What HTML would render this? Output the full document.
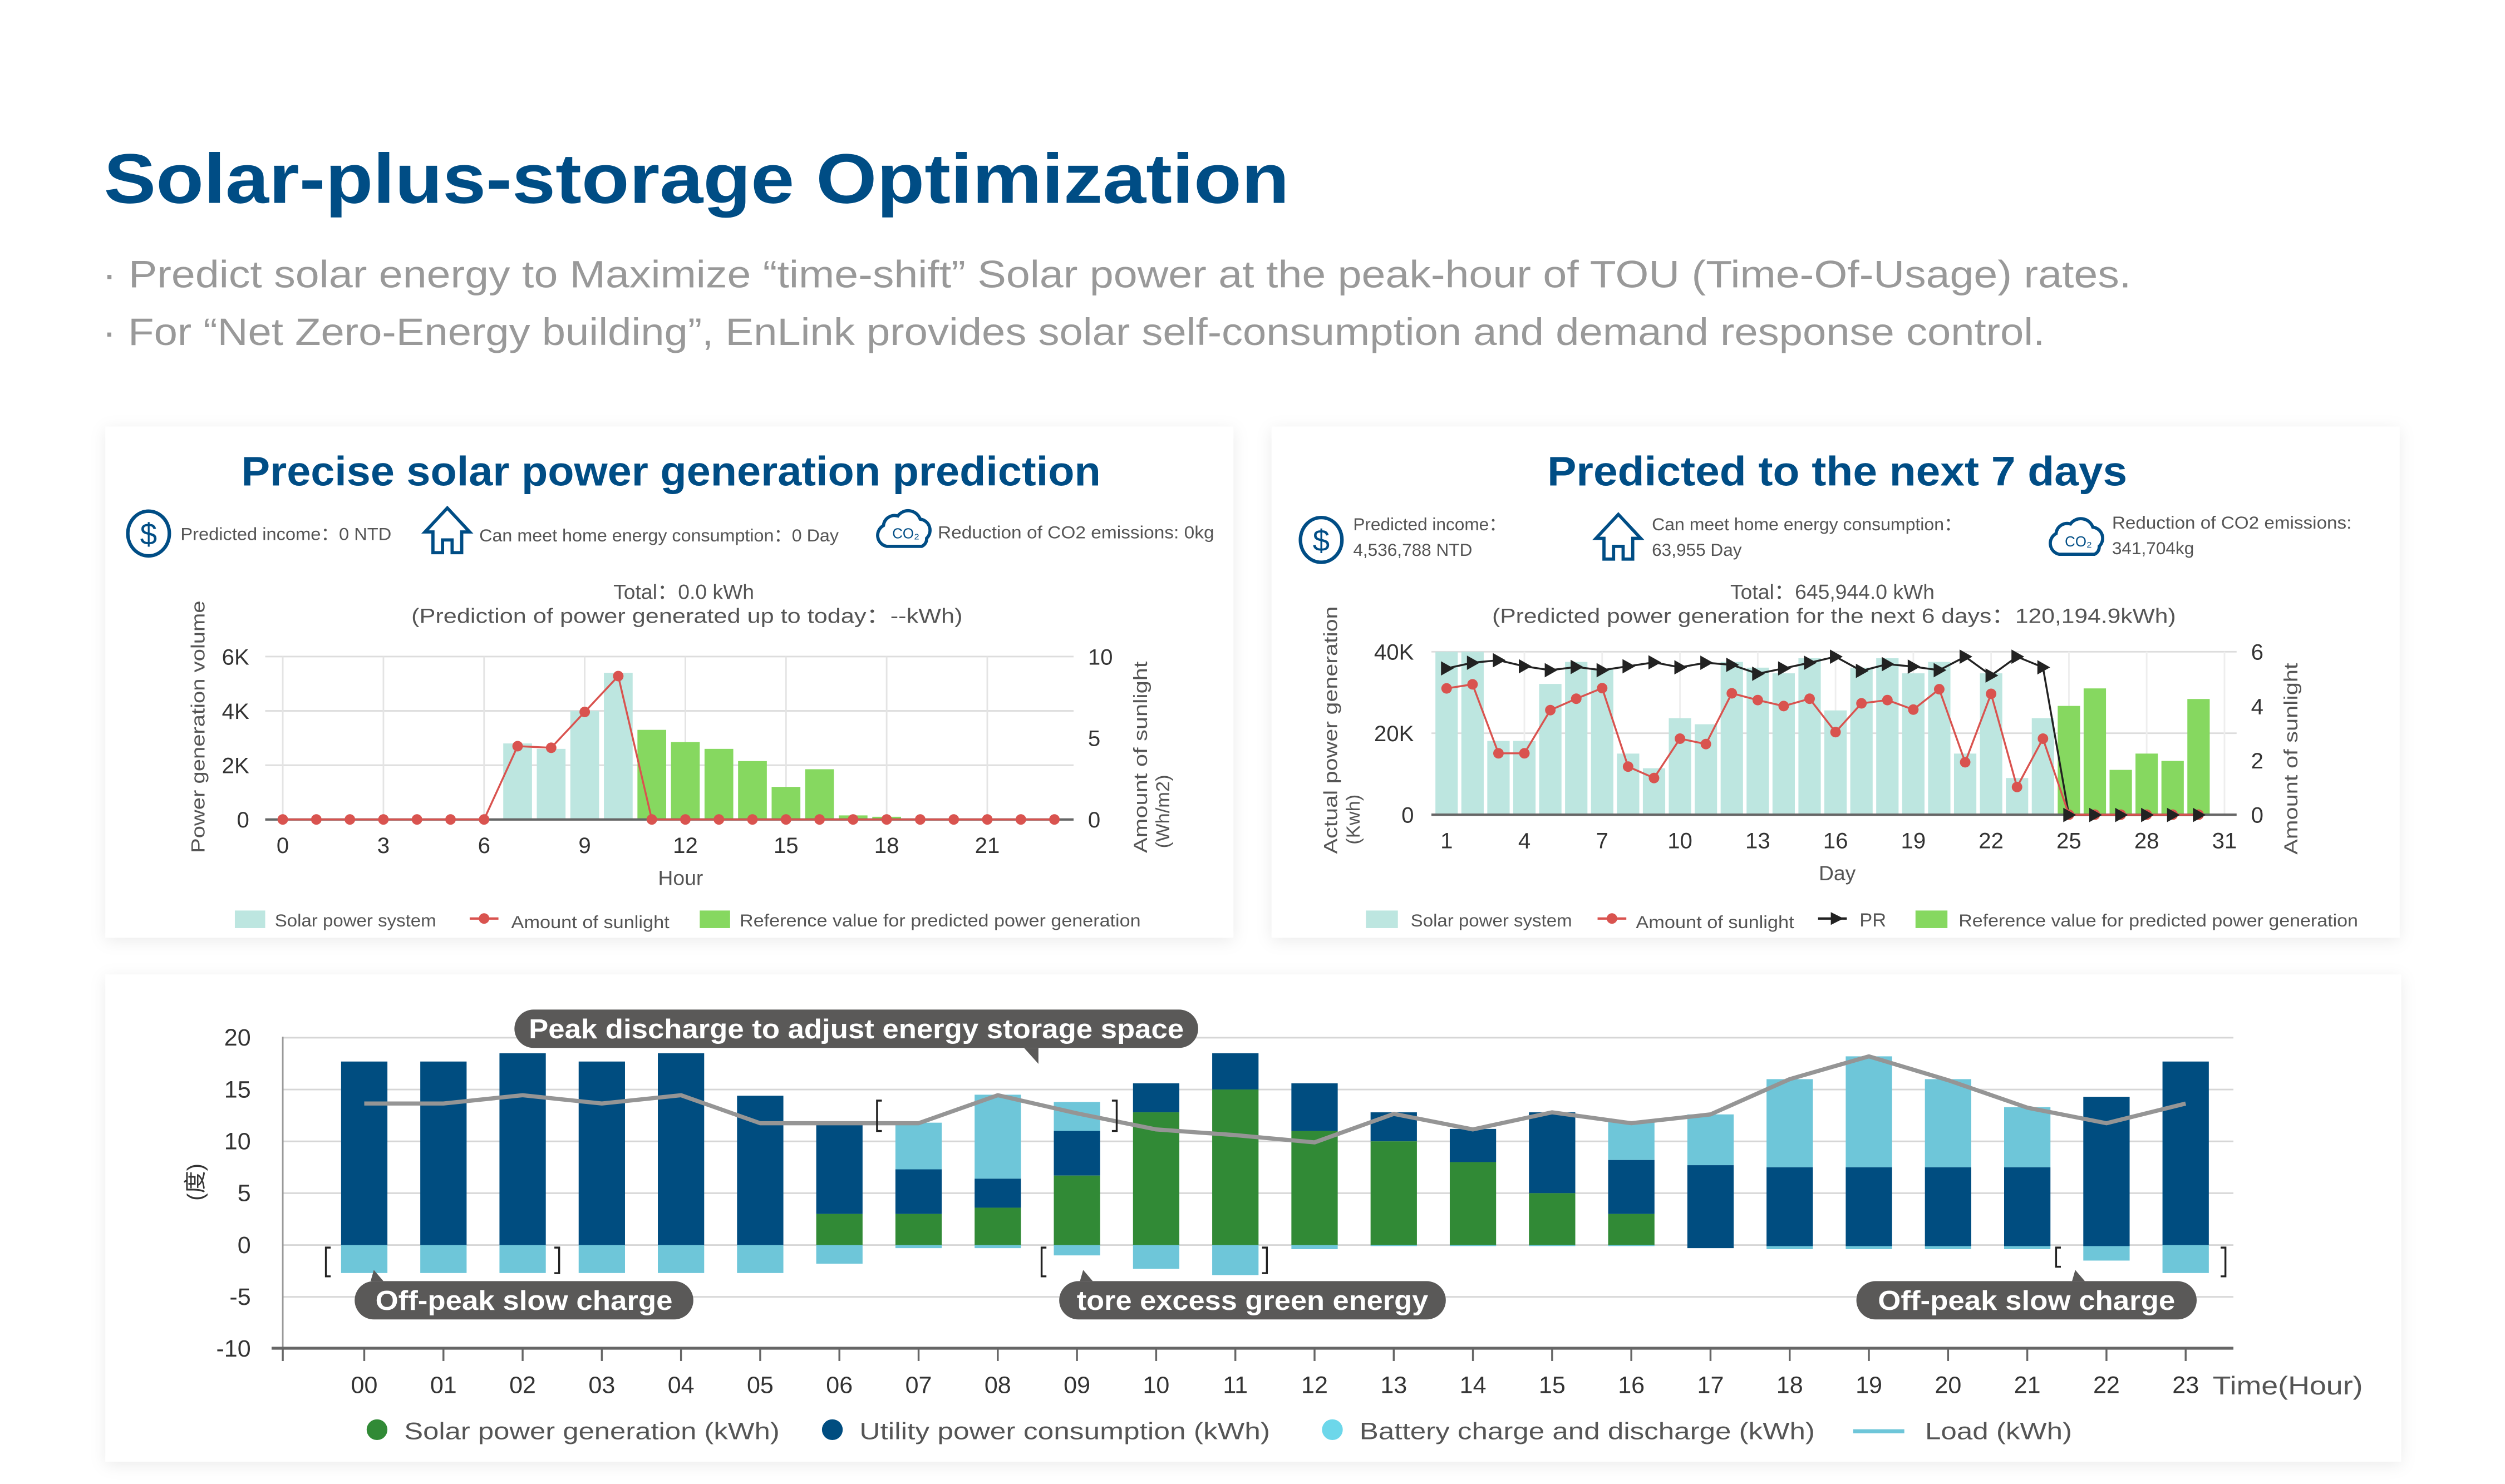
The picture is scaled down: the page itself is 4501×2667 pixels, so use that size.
<!DOCTYPE html>
<html><head><meta charset="utf-8">
<style>
html,body{margin:0;padding:0;background:#fff;}
svg{display:block;font-family:"Liberation Sans","Noto Sans CJK SC",sans-serif;}
</style></head>
<body>
<svg id="s" xmlns="http://www.w3.org/2000/svg" width="4501" height="2667" viewBox="0 0 1568 929" preserveAspectRatio="none">
<defs>
<filter id="sh" x="-5%" y="-10%" width="110%" height="120%"><feDropShadow dx="0" dy="2" stdDeviation="5" flood-color="#000" flood-opacity="0.08"/></filter>
</defs>
<text x="65" y="127" font-size="44" font-weight="bold" fill="#004d85" textLength="742" lengthAdjust="spacingAndGlyphs">Solar-plus-storage Optimization</text>
<text x="64" y="180" font-size="24" fill="#999" textLength="1270" lengthAdjust="spacingAndGlyphs">·  Predict solar energy to Maximize “time-shift” Solar power at the peak-hour of TOU (Time-Of-Usage) rates.</text>
<text x="64" y="216" font-size="24" fill="#999" textLength="1216" lengthAdjust="spacingAndGlyphs">·  For “Net Zero-Energy building”, EnLink provides solar self-consumption and demand response control.</text>

<rect x="66" y="267" width="706" height="320" fill="#fff" filter="url(#sh)"/>
<rect x="796" y="267" width="706" height="320" fill="#fff" filter="url(#sh)"/>
<rect x="66" y="610" width="1437" height="305" fill="#fff" filter="url(#sh)"/>
<g id="g"></g>
</svg>
<script>
var out='',G=document.getElementById('g');
function t(x,y,s,txt,o){o=o||{};out+='<text x="'+x+'" y="'+y+'" font-size="'+s+'" fill="'+(o.f||'#555')+'"'+(o.a?' text-anchor="'+o.a+'"':'')+(o.w?' font-weight="bold"':'')+(o.tl?' textLength="'+o.tl+'" lengthAdjust="spacingAndGlyphs"':'')+(o.r?' transform="rotate(-90 '+x+' '+y+')"':'')+'>'+txt+'</text>';}
function r(x,y,w,h,f){if(h<0){y+=h;h=-h;}out+='<rect x="'+x+'" y="'+y+'" width="'+w+'" height="'+h+'" fill="'+f+'"/>';}
function l(x1,y1,x2,y2,c,w){out+='<line x1="'+x1+'" y1="'+y1+'" x2="'+x2+'" y2="'+y2+'" stroke="'+c+'" stroke-width="'+(w||1)+'"/>';}
function pl(pts,c,w){out+='<polyline points="'+pts.map(p=>p.join(',')).join(' ')+'" fill="none" stroke="'+c+'" stroke-width="'+w+'" stroke-linejoin="round"/>';}
var B='#004d85';
function dollar(x,y){out+='<ellipse cx="'+x+'" cy="'+y+'" rx="13" ry="14" fill="none" stroke="'+B+'" stroke-width="2.2"/>';t(x,y+7,19,'$',{a:'middle',f:B});}
function house(x,y){out+='<path d="M'+x+','+(y-15)+' L'+(x+14)+','+(y)+' L'+(x+9)+','+y+' L'+(x+9)+','+(y+13)+' L'+(x+3)+','+(y+13)+' L'+(x+3)+','+(y+5)+' L'+(x-3)+','+(y+5)+' L'+(x-3)+','+(y+13)+' L'+(x-9)+','+(y+13)+' L'+(x-9)+','+y+' L'+(x-14)+','+y+' Z" fill="none" stroke="'+B+'" stroke-width="2"/>';}
function cloud(x,y){out+='<path d="M'+(x-11)+','+(y+9)+' a7,7 0 0 1 -2,-13 a7,7 0 0 1 9,-6 a8,8 0 0 1 14,2 a7,7 0 0 1 4,12 a5,5 0 0 1 -3,5 Z" fill="none" stroke="'+B+'" stroke-width="2"/>';t(x+1,y+4,9,'CO₂',{a:'middle',f:B});}

// Panel 1
t(420,304,26,'Precise solar power generation prediction',{a:'middle',f:B,w:1,tl:538});
dollar(93,334);t(113,338,11,'Predicted income：0 NTD',{tl:132});
house(280,333);t(300,339,11,'Can meet home energy consumption：0 Day',{tl:225});
cloud(566,333);t(587,337,11,'Reduction of CO2 emissions: 0kg',{tl:173});
t(428,375,13,'Total：0.0 kWh',{a:'middle'});
t(430,390,13,'(Prediction of power generated up to today：--kWh)',{a:'middle',tl:345});
var y1=v=>513-v*17;
[0,2,4,6].forEach(v=>l(166,y1(v),672,y1(v),'#ddd'));
for(var k=0;k<8;k++){l(177+63*k,411,177+63*k,513,'#e4e4e4');}
var ph=h=>177+21*h;
[[7,2.8],[8,2.6],[9,4],[10,5.4]].forEach(d=>r(ph(d[0])-9,y1(d[1]),18,d[1]*17,'#bde6e0'));
[[11,3.3],[12,2.85],[13,2.6],[14,2.15],[15,1.2],[16,1.85],[17,0.15],[18,0.1]].forEach(d=>r(ph(d[0])-9,y1(d[1]),18,d[1]*17,'#86d860'));
l(166,513,672,513,'#666',1.5);
var sun=[];for(var h=0;h<24;h++){var v={7:4.5,8:4.4,9:6.6,10:8.8}[h]||0;sun.push([ph(h),513-v*10.2]);}
pl(sun,'#d9534f',1.2);sun.forEach(p=>out+='<circle cx="'+p[0]+'" cy="'+p[1]+'" r="3.3" fill="#d9534f"/>');
[['6K',0],['4K',2],['2K',4],['0',6]].forEach((a,i)=>t(156,y1(6-i*2)+5,14,a[0],{a:'end',f:'#333'}));
[0,3,6,9,12,15,18,21].forEach(h=>t(ph(h),534,14,h,{a:'middle',f:'#333'}));
t(426,554,13,'Hour',{a:'middle'});
[['10',411],['5',462],['0',513]].forEach(a=>t(681,a[1]+5,14,a[0],{f:'#333'}));
t(128,455,12,'Power generation volume',{a:'middle',r:1,tl:158});
t(718,474,12,'Amount of sunlight',{a:'middle',r:1,tl:120});
t(732,508,12,'(Wh/m2)',{a:'middle',r:1});
r(147,570,19,11,'#bde6e0');t(172,580,11,'Solar power system',{tl:101});
l(294,575,312,575,'#d9534f',1.5);out+='<circle cx="303" cy="575" r="3.3" fill="#d9534f"/>';t(320,581,11,'Amount of sunlight',{tl:99});
r(438,570,19,11,'#86d860');t(463,580,11,'Reference value for predicted power generation',{tl:251});

// Panel 2
t(1150,304,26,'Predicted to the next 7 days',{a:'middle',f:B,w:1,tl:363});
dollar(827,338);t(847,332,11,'Predicted income：');t(847,348,11,'4,536,788 NTD');
house(1013,337);t(1034,332,11,'Can meet home energy consumption：',{tl:194});t(1034,348,11,'63,955 Day');
cloud(1300,338);t(1322,331,11,'Reduction of CO2 emissions:',{tl:150});t(1322,347,11,'341,704kg');
t(1147,375,13,'Total：645,944.0 kWh',{a:'middle'});
t(1148,390,13,'(Predicted power generation for the next 6 days：120,194.9kWh)',{a:'middle',tl:428});
var y2=v=>510-v*2.55;
[0,20,40].forEach(v=>l(896,y2(v),1400,y2(v),'#ddd'));
var px=d=>905.5+(d-1)*16.23;
for(var d=1;d<=31;d+=3)l(px(d),408,px(d),510,'#eee');
var sol=[40,40,18.1,18.1,32.1,37.5,35.7,15,11.4,23.7,22.2,37.5,36.1,34.7,38.4,25.6,36.1,38.4,34.7,37.5,15,34.7,9,23.7];
sol.forEach((v,i)=>r(px(i+1)-7,y2(v),14,v*2.55,'#bde6e0'));
[26.7,31,11,15,13.2,28.4].forEach((v,i)=>r(px(i+25)-7,y2(v),14,v*2.55,'#86d860'));
l(896,510,1400,510,'#666',1.5);
var sv=[4.65,4.8,2.26,2.26,3.85,4.27,4.66,1.77,1.35,2.8,2.6,4.47,4.22,4.0,4.27,3.04,4.1,4.22,3.87,4.62,1.93,4.45,1.02,2.8,0,0,0,0,0,0];
var sp=sv.map((v,i)=>[px(i+1),510-v*17]);
var pr=[785,769,762,779,790,781,790,779,768,782,769,775,800,785,769,752,792,773,780,790,752,805,752,782,1198,1198,1198,1198,1198,1198];
var pp=pr.map((z,i)=>[px(i+1),244+z*0.2222]);
pl(pp,'#222',1.2);
pl(sp,'#d9534f',1.2);sp.forEach(p=>out+='<circle cx="'+p[0]+'" cy="'+p[1]+'" r="3.3" fill="#d9534f"/>');
pp.forEach(p=>out+='<path d="M'+(p[0]-3.5)+','+(p[1]-4.5)+' L'+(p[0]+4.5)+','+p[1]+' L'+(p[0]-3.5)+','+(p[1]+4.5)+' Z" fill="#222"/>');
[['40K',40],['20K',20],['0',0]].forEach(a=>t(885,y2(a[1])+5,14,a[0],{a:'end',f:'#333'}));
[1,4,7,10,13,16,19,22,25,28,31].forEach(d=>t(px(d),531,14,d,{a:'middle',f:'#333'}));
t(1150,551,13,'Day',{a:'middle'});
[['6',408],['4',442],['2',476],['0',510]].forEach(a=>t(1409,a[1]+5,14,a[0],{f:'#333'}));
t(837,457,12,'Actual power generation',{a:'middle',r:1,tl:155});
t(851,513,12,'(Kwh)',{a:'middle',r:1});
t(1438,475,12,'Amount of sunlight',{a:'middle',r:1,tl:120});
r(855,570,20,11,'#bde6e0');t(883,580,11,'Solar power system',{tl:101});
l(1000,575,1018,575,'#d9534f',1.5);out+='<circle cx="1009" cy="575" r="3.3" fill="#d9534f"/>';t(1024,581,11,'Amount of sunlight',{tl:99});
l(1138,575,1156,575,'#222',1.5);out+='<path d="M1146,571 L1154,575 L1146,579Z" fill="#222"/>';t(1164,580,12,'PR');
r(1199,570,20,11,'#86d860');t(1226,580,11,'Reference value for predicted power generation',{tl:250});

// Panel 3
var y3=v=>779.4-v*6.49, hx=h=>228+h*49.57;
[20,15,10,5,0,-5].forEach(v=>l(177,y3(v),1398,y3(v),'#d6d6d6'));
l(177,649,177,852,'#999',1);
var SG='#318a36',UT='#004d80',BT='#6ec6d9';
var D=[[0,17.7,0,-2.7],[0,17.7,0,-2.7],[0,18.5,0,-2.7],[0,17.7,0,-2.7],[0,18.5,0,-2.7],[0,14.4,0,-2.7],
[3.0,11.8,0,-1.8],[3.0,7.3,11.8,-0.3],[3.6,6.4,14.5,-0.3],[6.7,11.0,13.8,-1.0],[12.8,15.6,0,-2.3],[15.0,18.5,0,-2.9],
[11.0,15.6,0,-0.4],[10.0,12.8,0,-0.1],[8.0,11.2,0,-0.1],[5.0,12.8,0,-0.1],[3.0,8.2,11.9,-0.1],[0,7.7,12.6,0,-0.3],
[0,7.5,16.0,-0.4,-0.1],[0,7.5,18.2,-0.4,-0.1],[0,7.5,16.0,-0.4,-0.1],[0,7.5,13.3,-0.4,-0.1],[0,14.3,0,-1.5,-0.1],[0,17.7,0,-2.7]];
D.forEach((d,h)=>{var x=hx(h)-14.5,w=29;
 if(d[3])r(x,y3(0),w,-d[3]*6.49,BT);
 if(d[4])r(x,y3(0),w,-d[4]*6.49,UT);
 if(d[2])r(x,y3(d[2]),w,(d[2]-d[1])*6.49,BT);
 r(x,y3(d[1]),w,(d[1]-d[0])*6.49,UT);
 if(d[0])r(x,y3(d[0]),w,d[0]*6.49,SG);
});
var LD=[13.65,13.65,14.45,13.65,14.45,11.75,11.75,11.75,14.45,12.7,11.15,10.6,9.9,12.65,11.15,12.8,11.75,12.6,16.0,18.2,15.9,13.25,11.75,13.65];
pl(LD.map((v,h)=>[hx(h),y3(v)]),'#959595',2.6);
l(170,844,1398,844,'#666',1.8);
for(var h=-1;h<24;h++){var xx=h<0?177:hx(h);l(xx,844,xx,852,'#666',1.2);}
[20,15,10,5,0,-5,-10].forEach(v=>t(157,y3(v)+5,15,v,{a:'end',f:'#333'}));
t(127,740,14,'(度)',{a:'middle',r:1,f:'#333'});
for(var h=0;h<24;h++)t(hx(h),872,15,(h<10?'0':'')+h,{a:'middle',f:'#333'});
t(1385,873,16,'Time(Hour)',{f:'#555',tl:94});
function br(x,a,b,left){out+='<path d="M'+(x+(left?3:-3))+','+a+' L'+x+','+a+' L'+x+','+b+' L'+(x+(left?3:-3))+','+b+'" fill="none" stroke="#222" stroke-width="1.2"/>';}
br(204,781,799,1);br(350,781,797,0);br(549,689,708,1);br(699,689,708,0);br(652,781,799,1);br(793,781,797,0);br(1287,781,793,1);br(1393,781,799,0);
function pill(x1,x2,y,txt,tl){out+='<rect x="'+x1+'" y="'+y+'" width="'+(x2-x1)+'" height="24" rx="12" fill="#5a5958"/>';t((x1+x2)/2,y+18,17,txt,{a:'middle',f:'#fff',w:1,tl:tl});}
pill(322,750,632,'Peak discharge to adjust energy storage space',410);
out+='<path d="M641,656 L650,656 L650,666Z" fill="#5a5958"/>';
pill(222,434,802,'Off-peak slow charge',186);out+='<path d="M232,802 L240,802 L234,795Z" fill="#5a5958"/>';
pill(663,905,802,'tore excess green energy',220);out+='<path d="M676,802 L684,802 L678,795Z" fill="#5a5958"/>';
pill(1162,1375,802,'Off-peak slow charge',186);out+='<path d="M1297,802 L1305,802 L1299,795Z" fill="#5a5958"/>';
out+='<circle cx="236" cy="895" r="6.5" fill="'+SG+'"/>';t(253,901,15,'Solar power generation (kWh)',{tl:235});
out+='<circle cx="521" cy="895" r="6.5" fill="'+UT+'"/>';t(538,901,15,'Utility power consumption (kWh)',{tl:257});
out+='<circle cx="834" cy="895" r="6.5" fill="#6dd7ea"/>';t(851,901,15,'Battery charge and discharge (kWh)',{tl:285});
l(1160,896,1192,896,BT,2.5);t(1205,901,15,'Load (kWh)',{tl:92});
G.innerHTML=out;
</script>
</body></html>
